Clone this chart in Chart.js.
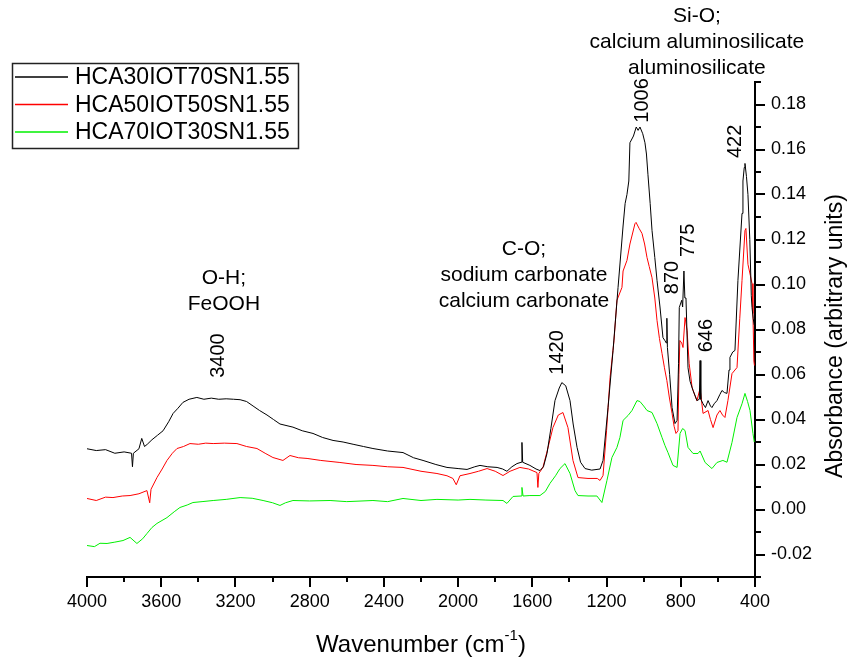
<!DOCTYPE html>
<html>
<head>
<meta charset="utf-8">
<script src="https://cdn.jsdelivr.net/npm/chart.js@4.4.1/dist/chart.umd.min.js"></script>
<style>
    html, body { margin: 0; padding: 0; background: #fff; }
</style>
</head>
<body>
<canvas id="ftir-chart" width="852" height="662"></canvas>
<script>
const seriesNames = ['HCA30IOT70SN1.55', 'HCA50IOT50SN1.55', 'HCA70IOT30SN1.55'];
const seriesColors = ['#000000', '#ff0000', '#00f000'];

// wavenumber (cm-1) / absorbance
const blackWn = [
    4000, 3950, 3900, 3850, 3800, 3760, 3755, 3750, 3720, 3705,
    3690, 3675, 3650, 3620, 3590, 3560, 3536, 3510, 3483, 3450,
    3408, 3370, 3330, 3290, 3250, 3210, 3175, 3140, 3105, 3070,
    3030, 2995, 2960, 2890, 2840, 2782, 2730, 2674, 2620, 2566,
    2510, 2459, 2380, 2297, 2240, 2189, 2120, 2060, 2000, 1952,
    1910, 1882, 1840, 1790, 1760, 1737, 1710, 1683, 1660, 1656,
    1652, 1613, 1580, 1559, 1540, 1521, 1500, 1478, 1455, 1441,
    1420, 1397, 1380, 1359, 1340, 1316, 1280, 1235, 1219, 1192,
    1165, 1138, 1111, 1100, 1090, 1080, 1074, 1055, 1040, 1030,
    1020, 1005, 993, 985, 977, 965, 955, 940, 928, 912,
    896, 885, 878, 875, 872, 860, 847, 831, 820, 812,
    808, 795, 790, 783, 778, 772, 761, 750, 734, 713,
    700, 696, 692, 680, 667, 653, 640, 632, 620, 605,
    590, 578, 565, 551, 540, 535, 520, 508, 492, 480,
    470, 465, 458, 454, 446, 438, 428, 420, 416, 410,
    404
];
const blackAbs = [
    0.0270, 0.0262, 0.0266, 0.0250, 0.0256, 0.0250, 0.0190, 0.0250, 0.0270, 0.0316,
    0.0280, 0.0290, 0.0310, 0.0330, 0.0350, 0.0390, 0.0427, 0.0450, 0.0476, 0.0490,
    0.0498, 0.0490, 0.0495, 0.0490, 0.0492, 0.0490, 0.0488, 0.0480, 0.0460, 0.0440,
    0.0420, 0.0400, 0.0380, 0.0366, 0.0350, 0.0338, 0.0320, 0.0307, 0.0300, 0.0290,
    0.0280, 0.0271, 0.0260, 0.0253, 0.0230, 0.0218, 0.0200, 0.0187, 0.0182, 0.0178,
    0.0190, 0.0196, 0.0190, 0.0187, 0.0180, 0.0170, 0.0190, 0.0204, 0.0210, 0.0298,
    0.0210, 0.0196, 0.0180, 0.0173, 0.0190, 0.0249, 0.0360, 0.0484, 0.0540, 0.0564,
    0.0550, 0.0484, 0.0380, 0.0276, 0.0210, 0.0182, 0.0175, 0.0180, 0.0218, 0.0453,
    0.0707, 0.0987, 0.1260, 0.1360, 0.1400, 0.1460, 0.1630, 0.1660, 0.1700, 0.1685,
    0.1700, 0.1670, 0.1630, 0.1580, 0.1490, 0.1360, 0.1240, 0.1120, 0.1018, 0.0900,
    0.0764, 0.0750, 0.0740, 0.0850, 0.0720, 0.0600, 0.0453, 0.0382, 0.0396, 0.0650,
    0.0898, 0.0930, 0.0900, 0.1060, 0.0940, 0.0940, 0.0630, 0.0570, 0.0529, 0.0484,
    0.0490, 0.0662, 0.0490, 0.0470, 0.0453, 0.0484, 0.0460, 0.0453, 0.0470, 0.0484,
    0.0510, 0.0529, 0.0520, 0.0516, 0.0620, 0.0676, 0.0700, 0.0707, 0.1018, 0.1180,
    0.1316, 0.1460, 0.1520, 0.1538, 0.1480, 0.1400, 0.1200, 0.0950, 0.0898, 0.0850,
    0.0820
];

const redWn = [
    4000, 3950, 3900, 3860, 3810, 3768, 3720, 3677, 3662, 3655,
    3623, 3595, 3569, 3540, 3515, 3480, 3445, 3400, 3360, 3320,
    3260, 3192, 3140, 3084, 3040, 2998, 2944, 2906, 2860, 2814,
    2740, 2637, 2550, 2459, 2380, 2297, 2200, 2114, 2060, 2028,
    2010, 1990, 1936, 1890, 1844, 1800, 1758, 1720, 1667, 1620,
    1575, 1570, 1565, 1543, 1520, 1489, 1460, 1435, 1408, 1381,
    1354, 1300, 1250, 1235, 1219, 1200, 1181, 1160, 1144, 1117,
    1111, 1090, 1074, 1047, 1041, 1025, 1009, 995, 982, 970,
    955, 940, 928, 915, 901, 888, 875, 862, 847, 836,
    826, 815, 810, 805, 795, 788, 777, 766, 755, 739,
    713, 696, 680, 653, 640, 626, 605, 589, 575, 562,
    546, 524, 497, 482, 470, 454, 449, 438, 425, 416,
    411, 406, 403
];
const redAbs = [
    0.0049, 0.0040, 0.0055, 0.0053, 0.0060, 0.0062, 0.0070, 0.0084, 0.0030, 0.0090,
    0.0142, 0.0180, 0.0218, 0.0250, 0.0271, 0.0280, 0.0293, 0.0290, 0.0295, 0.0293,
    0.0295, 0.0293, 0.0280, 0.0271, 0.0250, 0.0231, 0.0218, 0.0240, 0.0230, 0.0227,
    0.0218, 0.0209, 0.0200, 0.0196, 0.0190, 0.0187, 0.0170, 0.0160, 0.0150, 0.0138,
    0.0110, 0.0150, 0.0160, 0.0170, 0.0182, 0.0170, 0.0151, 0.0170, 0.0187, 0.0180,
    0.0164, 0.0098, 0.0160, 0.0187, 0.0260, 0.0364, 0.0420, 0.0431, 0.0364, 0.0218,
    0.0142, 0.0138, 0.0138, 0.0129, 0.0151, 0.0350, 0.0587, 0.0750, 0.0930, 0.0987,
    0.1060, 0.1107, 0.1180, 0.1270, 0.1276, 0.1250, 0.1227, 0.1180, 0.1120, 0.1080,
    0.1030, 0.0940, 0.0840, 0.0760, 0.0693, 0.0630, 0.0573, 0.0500, 0.0427, 0.0370,
    0.0338, 0.0350, 0.0600, 0.0751, 0.0740, 0.0720, 0.0853, 0.0796, 0.0650, 0.0542,
    0.0484, 0.0538, 0.0427, 0.0440, 0.0400, 0.0364, 0.0420, 0.0440, 0.0420, 0.0409,
    0.0484, 0.0604, 0.0631, 0.0850, 0.1018, 0.1240, 0.1249, 0.1090, 0.1040, 0.1004,
    0.0871, 0.0660, 0.0640
];

const greenWn = [
    4000, 3960, 3930, 3892, 3850, 3806, 3768, 3731, 3700, 3677,
    3650, 3623, 3569, 3530, 3499, 3460, 3429, 3380, 3320, 3250,
    3175, 3110, 3051, 3000, 2960, 2930, 2890, 2800, 2690, 2600,
    2459, 2380, 2297, 2200, 2114, 2000, 1936, 1850, 1758, 1737,
    1704, 1660, 1656, 1650, 1613, 1559, 1530, 1505, 1475, 1451,
    1424, 1397, 1370, 1354, 1300, 1252, 1225, 1198, 1171, 1144,
    1128, 1111, 1084, 1063, 1036, 1020, 1000, 982, 955, 928,
    901, 885, 869, 842, 820, 804, 790, 777, 761, 734,
    707, 696, 669, 632, 605, 573, 551, 524, 497, 470,
    454, 440, 427, 411, 404
];
const greenAbs = [
    -0.0160, -0.0165, -0.0150, -0.0151, -0.0145, -0.0138, -0.0124, -0.0151, -0.0130, -0.0107,
    -0.0080, -0.0062, -0.0036, -0.0010, 0.0009, 0.0020, 0.0031, 0.0035, 0.0040, 0.0045,
    0.0053, 0.0050, 0.0040, 0.0030, 0.0018, 0.0030, 0.0040, 0.0038, 0.0040, 0.0035,
    0.0040, 0.0035, 0.0049, 0.0040, 0.0045, 0.0042, 0.0045, 0.0042, 0.0040, 0.0027,
    0.0058, 0.0060, 0.0098, 0.0060, 0.0062, 0.0062, 0.0080, 0.0116, 0.0150, 0.0182,
    0.0204, 0.0160, 0.0084, 0.0062, 0.0060, 0.0060, 0.0031, 0.0129, 0.0231, 0.0276,
    0.0320, 0.0396, 0.0418, 0.0440, 0.0484, 0.0480, 0.0460, 0.0440, 0.0431, 0.0382,
    0.0320, 0.0284, 0.0253, 0.0196, 0.0187, 0.0338, 0.0360, 0.0351, 0.0276, 0.0249,
    0.0249, 0.0260, 0.0209, 0.0182, 0.0209, 0.0218, 0.0210, 0.0298, 0.0409, 0.0470,
    0.0516, 0.0480, 0.0440, 0.0338, 0.0300
];

const xLabelTicks = [4000, 3600, 3200, 2800, 2400, 2000, 1600, 1200, 800, 400];
const yLabelTicks = [-0.02, 0.00, 0.02, 0.04, 0.06, 0.08, 0.10, 0.12, 0.14, 0.16, 0.18];

// band assignments, anchored at (wavenumber, absorbance)
const bandNotes = [
    { lines: ['O-H;', 'FeOOH'], wn: 3262, abs: 0.1027 },
    { lines: ['C-O;', 'sodium carbonate', 'calcium carbonate'], wn: 1645, abs: 0.1156 },
    { lines: ['Si-O;', 'calcium aluminosilicate', 'aluminosilicate'], wn: 713, abs: 0.2191 }
];
const peakLabels = [
    { text: '3400', wn: 3294, abs: 0.0684 },
    { text: '1420', wn: 1462, abs: 0.0698 },
    { text: '1006', wn: 1009, abs: 0.1818 },
    { text: '870', wn: 847, abs: 0.1031 },
    { text: '775', wn: 761, abs: 0.1196 },
    { text: '646', wn: 659, abs: 0.0773 },
    { text: '422', wn: 503, abs: 0.1636 }
];

const FONT = '"Liberation Sans", Arial, sans-serif';

function toPoints(wn, abs) {
    return wn.map((w, i) => ({ x: w, y: abs[i] }));
}

const isXLabel = v => xLabelTicks.includes(Math.round(v));
const isYLabel = v => yLabelTicks.some(t => Math.abs(t - v) < 1e-6);

const extrasPlugin = {
    id: 'ftirExtras',
    afterDraw(chart) {
        const ctx = chart.ctx;
        const x = chart.scales.x;
        const y = chart.scales.y;
        const area = chart.chartArea;
        ctx.save();

        // minor ticks
        ctx.strokeStyle = '#000';
        ctx.lineWidth = 2;
        ctx.beginPath();
        x.ticks.forEach(t => {
            if (isXLabel(t.value)) return;
            const px = Math.round(x.getPixelForValue(t.value));
            ctx.moveTo(px, area.bottom);
            ctx.lineTo(px, area.bottom + 5);
        });
        y.ticks.forEach(t => {
            if (isYLabel(t.value)) return;
            const py = Math.round(y.getPixelForValue(t.value));
            ctx.moveTo(area.right, py);
            ctx.lineTo(area.right + 6, py);
        });
        ctx.stroke();

        ctx.fillStyle = '#000';

        // band notes
        ctx.font = '21px ' + FONT;
        ctx.textAlign = 'center';
        ctx.textBaseline = 'middle';
        bandNotes.forEach(n => {
            const px = x.getPixelForValue(n.wn);
            const py = y.getPixelForValue(n.abs);
            n.lines.forEach((line, i) => ctx.fillText(line, px, py + i * 26));
        });

        // peak positions, rotated
        ctx.font = '20px ' + FONT;
        peakLabels.forEach(p => {
            ctx.save();
            ctx.translate(x.getPixelForValue(p.wn), y.getPixelForValue(p.abs));
            ctx.rotate(-Math.PI / 2);
            ctx.fillText(p.text, 0, 0);
            ctx.restore();
        });

        // y title
        ctx.font = '23px ' + FONT;
        ctx.save();
        ctx.translate(836, 336);
        ctx.rotate(-Math.PI / 2);
        ctx.fillText('Absorbance (arbitrary units)', 0, 0);
        ctx.restore();

        // x title with superscript
        const main = 'Wavenumber (cm';
        ctx.font = '24px ' + FONT;
        const wMain = ctx.measureText(main).width;
        const wClose = ctx.measureText(')').width;
        ctx.font = '15px ' + FONT;
        const wSup = ctx.measureText('-1').width;
        let sx = (area.left + area.right) / 2 - (wMain + wSup + wClose) / 2;
        ctx.textAlign = 'left';
        ctx.textBaseline = 'alphabetic';
        ctx.font = '24px ' + FONT;
        ctx.fillText(main, sx, 652);
        ctx.font = '15px ' + FONT;
        ctx.fillText('-1', sx + wMain, 640);
        ctx.font = '24px ' + FONT;
        ctx.fillText(')', sx + wMain + wSup, 652);

        // legend
        ctx.strokeStyle = '#222';
        ctx.lineWidth = 1.5;
        ctx.strokeRect(12.5, 63.5, 286, 85);
        ctx.font = '23px ' + FONT;
        ctx.textBaseline = 'middle';
        chart.data.datasets.forEach((ds, i) => {
            const ly = 77 + i * 27.5;
            ctx.strokeStyle = ds.borderColor;
            ctx.lineWidth = 1.5;
            ctx.beginPath();
            ctx.moveTo(15, ly);
            ctx.lineTo(68, ly);
            ctx.stroke();
            ctx.fillStyle = '#000';
            ctx.fillText(ds.label, 75, ly + 1);
        });

        ctx.restore();
    }
};

const datasets = [
    { label: seriesNames[0], data: toPoints(blackWn, blackAbs), borderColor: seriesColors[0] },
    { label: seriesNames[1], data: toPoints(redWn, redAbs), borderColor: seriesColors[1] },
    { label: seriesNames[2], data: toPoints(greenWn, greenAbs), borderColor: seriesColors[2] }
].map(ds => Object.assign(ds, { borderWidth: 1, pointRadius: 0, fill: false, tension: 0 }));

new Chart(document.getElementById('ftir-chart'), {
    type: 'line',
    data: { datasets: datasets },
    plugins: [extrasPlugin],
    options: {
        responsive: false,
        animation: false,
        layout: { padding: { left: 87, top: 82, right: 0, bottom: 0 } },
        plugins: {
            legend: { display: false },
            tooltip: { enabled: false }
        },
        scales: {
            x: {
                type: 'linear',
                reverse: true,
                min: 400,
                max: 4000,
                afterFit: scale => { scale.height = 85; },
                border: { display: true, color: '#000', width: 2 },
                grid: {
                    drawOnChartArea: false,
                    tickLength: 10,
                    lineWidth: 2,
                    tickColor: c => isXLabel(c.tick.value) ? '#000' : 'rgba(0,0,0,0)'
                },
                ticks: {
                    stepSize: 200,
                    autoSkip: false,
                    maxRotation: 0,
                    padding: 4,
                    color: '#000',
                    font: { family: FONT, size: 18 },
                    callback: v => isXLabel(v) ? String(Math.round(v)) : ''
                }
            },
            y: {
                type: 'linear',
                position: 'right',
                min: -0.03,
                max: 0.19,
                afterFit: scale => { scale.width = 97; },
                border: { display: true, color: '#000', width: 2 },
                grid: {
                    drawOnChartArea: false,
                    tickLength: 10,
                    lineWidth: 2,
                    tickColor: c => isYLabel(c.tick.value) ? '#000' : 'rgba(0,0,0,0)'
                },
                ticks: {
                    stepSize: 0.01,
                    autoSkip: false,
                    padding: 6,
                    color: '#000',
                    font: { family: FONT, size: 18 },
                    callback: v => isYLabel(v) ? v.toFixed(2) : ''
                }
            }
        }
    }
});
</script>
</body>
</html>
